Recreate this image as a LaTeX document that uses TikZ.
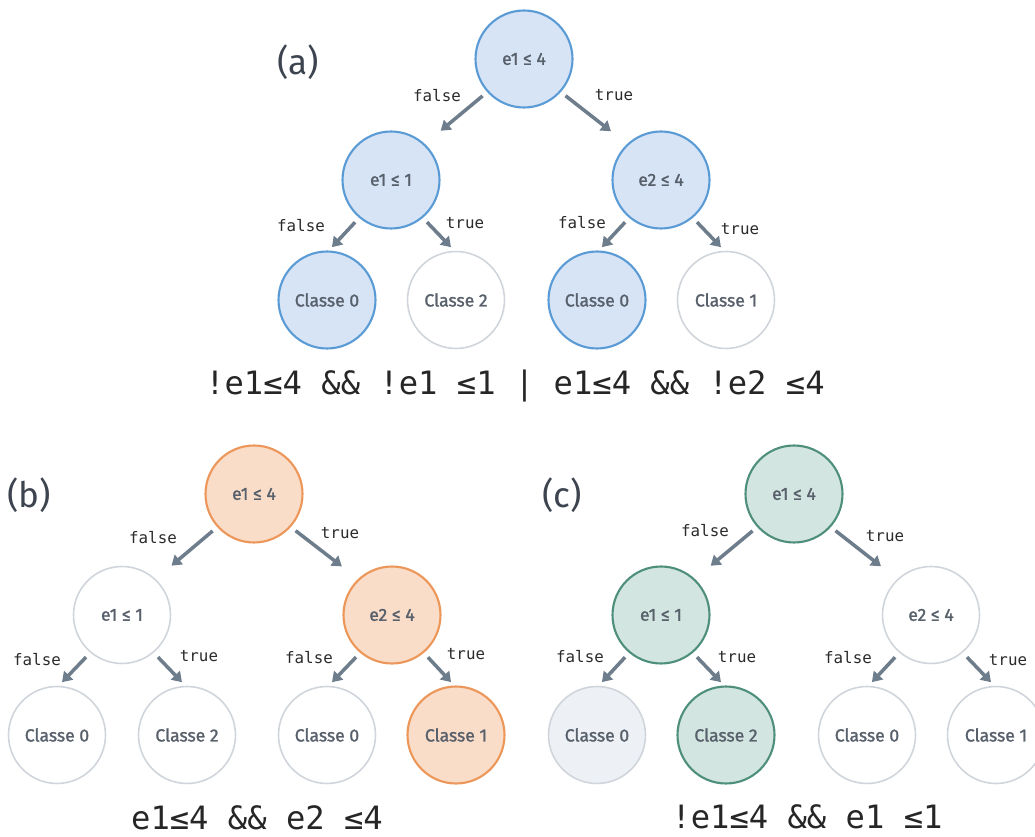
\documentclass[tikz,border=0pt]{standalone}
\usepackage{fontspec}
\setmainfont{Fira Sans}
\newfontfamily\nodefont{Fira Sans}[FakeBold=1.4]
\newfontfamily\codefont{DejaVu Sans Mono}
\usetikzlibrary{arrows.meta}

\definecolor{ringblue}{HTML}{5B9BD5}
\definecolor{fillblue}{HTML}{D6E4F5}
\definecolor{ringorange}{HTML}{EC965A}
\definecolor{fillorange}{HTML}{FADDC8}
\definecolor{ringgreen}{HTML}{4E8F7C}
\definecolor{fillgreen}{HTML}{D3E5E0}
\definecolor{ringgray}{HTML}{D0D5DB}
\definecolor{fillpale}{HTML}{EDF1F6}
\definecolor{arrowgray}{HTML}{6E7D8C}
\definecolor{nodetext}{HTML}{58606B}
\definecolor{panelgray}{HTML}{3D4450}
\definecolor{labeltext}{HTML}{2B2B2B}

\tikzset{
    tnode/.style={circle, minimum size=1.94cm, inner sep=0pt, outer sep=0pt,
        font=\nodefont\fontsize{10}{12}\selectfont, text=nodetext},
    offnode/.style={tnode, draw=ringgray, line width=0.9pt, fill=white},
    palenode/.style={tnode, draw=ringgray, line width=0.9pt, fill=fillpale},
    bluenode/.style={tnode, draw=ringblue, line width=1.2pt, fill=fillblue},
    orangenode/.style={tnode, draw=ringorange, line width=1.2pt, fill=fillorange},
    greennode/.style={tnode, draw=ringgreen, line width=1.2pt, fill=fillgreen},
    flow/.style={line width=2pt, arrowgray, -{Triangle[length=5.5pt, width=7pt]}},
    edgelabel/.style={font=\codefont\fontsize{9}{10}\selectfont, text=labeltext},
    formula/.style={inner sep=0pt, font=\codefont\fontsize{18.3}{20}\selectfont, text=black!85},
    panel/.style={font=\fontsize{20}{24}\selectfont, text=panelgray}
}

\begin{document}
\begin{tikzpicture}[x=0.02cm, y=-0.02cm]

    \useasboundingbox (0, 0) rectangle (1035, 837);
    \fill[white] (0, 0) rectangle (1035, 837);

    % tree (a)
    \node[panel] (pa) at (298, 62) {(a)};
    \node[bluenode] (a0) at (524, 59) {e1 ≤ 4};
    \node[bluenode] (a1) at (391, 180) {e1 ≤ 1};
    \node[bluenode] (a2) at (661, 180) {e2 ≤ 4};
    \node[bluenode] (a11) at (327, 300) {Classe 0};
    \node[offnode] (a12) at (456, 300) {Classe 2};
    \node[bluenode] (a21) at (597, 300) {Classe 0};
    \node[offnode] (a22) at (726, 300) {Classe 1};

    \node[edgelabel] (a0f) at (437, 96) {false};
    \node[edgelabel] (a0t) at (614, 95) {true};
    \node[edgelabel] (a1f) at (301, 226) {false};
    \node[edgelabel] (a1t) at (465, 223) {true};
    \node[edgelabel] (a2f) at (582, 223) {false};
    \node[edgelabel] (a2t) at (740, 229) {true};

    \node[formula] (fa) at (515, 386) {!e1≤4 \&\& !e1 ≤1 | e1≤4 \&\& !e2 ≤4};

    % tree (b)
    \node[panel] (pb) at (29, 495) {(b)};
    \node[orangenode] (b0) at (254, 494) {e1 ≤ 4};
    \node[offnode] (b1) at (122, 615) {e1 ≤ 1};
    \node[orangenode] (b2) at (392, 615) {e2 ≤ 4};
    \node[offnode] (b11) at (57, 735) {Classe 0};
    \node[offnode] (b12) at (187, 735) {Classe 2};
    \node[offnode] (b21) at (327, 735) {Classe 0};
    \node[orangenode] (b22) at (456, 735) {Classe 1};

    \node[edgelabel] (b0f) at (153, 538) {false};
    \node[edgelabel] (b0t) at (340, 533) {true};
    \node[edgelabel] (b1f) at (37, 660) {false};
    \node[edgelabel] (b1t) at (199, 656) {true};
    \node[edgelabel] (b2f) at (309, 658) {false};
    \node[edgelabel] (b2t) at (466, 654) {true};

    \node[formula] (fb) at (257, 818) {e1≤4 \&\& e2 ≤4};

    % tree (c)
    \node[panel] (pc) at (562, 495) {(c)};
    \node[greennode] (c0) at (794, 494) {e1 ≤ 4};
    \node[greennode] (c1) at (661, 615) {e1 ≤ 1};
    \node[offnode] (c2) at (931, 615) {e2 ≤ 4};
    \node[palenode] (c11) at (597, 735) {Classe 0};
    \node[greennode] (c12) at (726, 735) {Classe 2};
    \node[offnode] (c21) at (867, 735) {Classe 0};
    \node[offnode] (c22) at (996, 735) {Classe 1};

    \node[edgelabel] (c0f) at (705, 531) {false};
    \node[edgelabel] (c0t) at (885, 536) {true};
    \node[edgelabel] (c1f) at (580, 657) {false};
    \node[edgelabel] (c1t) at (737, 657) {true};
    \node[edgelabel] (c2f) at (848, 658) {false};
    \node[edgelabel] (c2t) at (1008, 660) {true};

    \node[formula] (fc) at (807, 817) {!e1≤4 \&\& e1 ≤1};

    % arrows, the same in every tree
    \foreach \t in {a, b, c} {
        \draw[flow, shorten <=0.14cm, shorten >=0.43cm] (\t0.222) -- (\t1.47);
        \draw[flow, shorten <=0.14cm, shorten >=0.43cm] (\t0.318) -- (\t2.133);
        \foreach \c in {1, 2} {
            \draw[flow, shorten <=0.14cm, shorten >=0.12cm] (\t\c.230) -- (\t\c1.89);
            \draw[flow, shorten <=0.14cm, shorten >=0.12cm] (\t\c.310) -- (\t\c2.91);
        }
    }

\end{tikzpicture}
\end{document}
